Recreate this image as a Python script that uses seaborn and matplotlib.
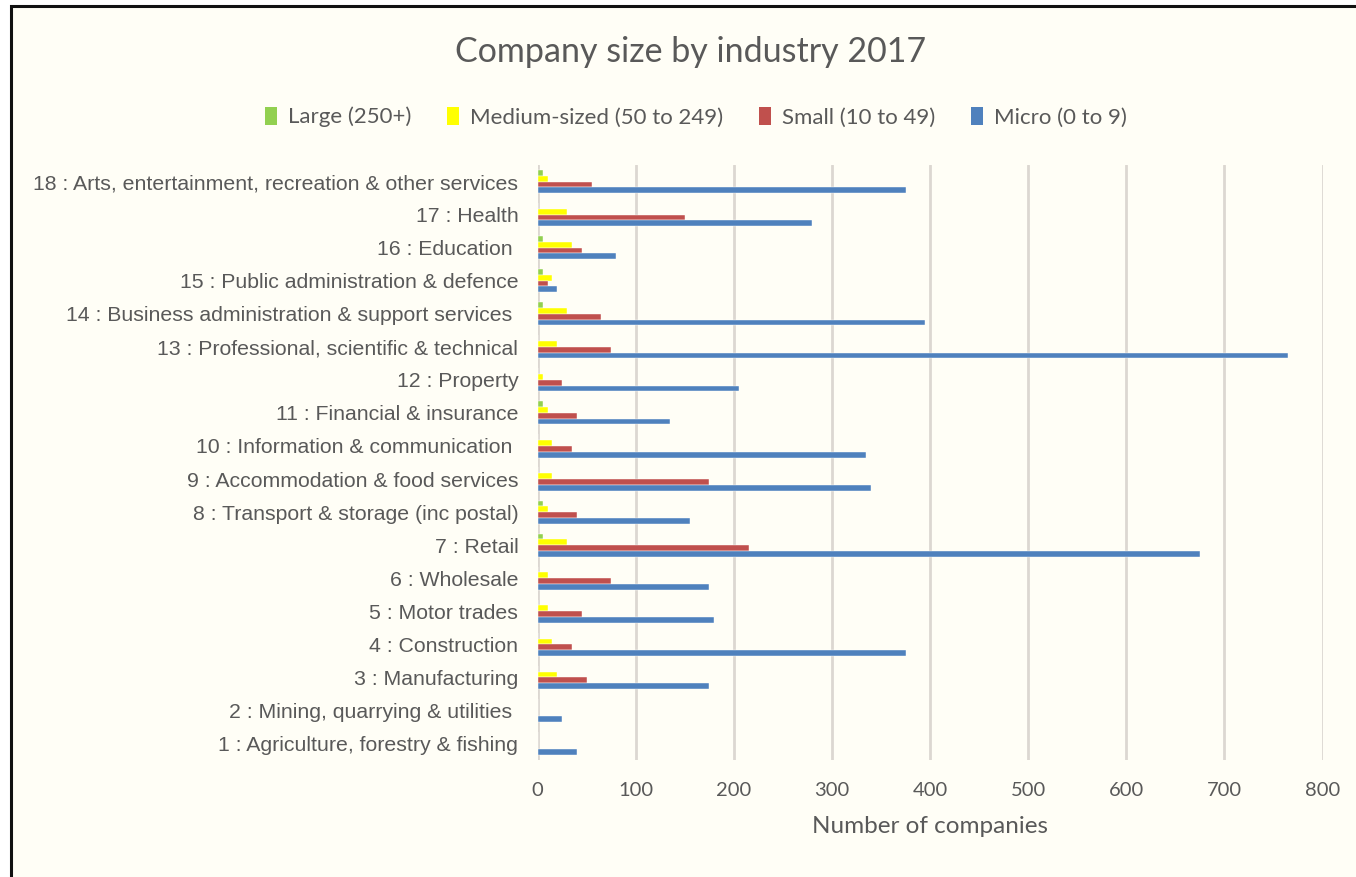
import matplotlib
matplotlib.use("Agg")
import matplotlib.pyplot as plt
import pandas as pd
import seaborn as sns
from matplotlib.patches import Rectangle, Patch

# Industry categories (bottom to top: 1 .. 18)
industries = [
    "1 : Agriculture, forestry & fishing",
    "2 : Mining, quarrying & utilities ",
    "3 : Manufacturing",
    "4 : Construction",
    "5 : Motor trades",
    "6 : Wholesale",
    "7 : Retail",
    "8 : Transport & storage (inc postal)",
    "9 : Accommodation & food services",
    "10 : Information & communication ",
    "11 : Financial & insurance",
    "12 : Property",
    "13 : Professional, scientific & technical",
    "14 : Business administration & support services ",
    "15 : Public administration & defence",
    "16 : Education ",
    "17 : Health",
    "18 : Arts, entertainment, recreation & other services",
]

size_bands = ["Large (250+)", "Medium-sized (50 to 249)", "Small (10 to 49)", "Micro (0 to 9)"]

large = [0, 0, 0, 0, 0, 0, 5, 5, 0, 0, 5, 0, 0, 5, 5, 5, 0, 5]
medium = [0, 0, 20, 15, 10, 10, 30, 10, 15, 15, 10, 5, 20, 30, 15, 35, 30, 10]
small = [0, 0, 50, 35, 45, 75, 215, 40, 175, 35, 40, 25, 75, 65, 10, 45, 150, 55]
micro = [40, 25, 175, 375, 180, 175, 675, 155, 340, 335, 135, 205, 765, 395, 20, 80, 280, 375]

x_ticks = [0, 100, 200, 300, 400, 500, 600, 700, 800]

band_colors = ["#92D050", "#FFFF00", "#C0504D", "#4F81BD"]

# Long-form table for seaborn
rows = []
for band, values in zip(size_bands, [large, medium, small, micro]):
    for ind, v in zip(industries, values):
        rows.append({"Industry": ind, "Size": band, "Companies": v})
df = pd.DataFrame(rows)

sns.set_theme(style="white")
plt.rcParams["font.family"] = ["Liberation Sans", "DejaVu Sans"]

bg = "#FFFEF6"
text_col = "#595959"
grid_col = "#DCD7D1"
ui_font = ["Lato", "DejaVu Sans"]

fig = plt.figure(figsize=(13.56, 8.77), dpi=100, facecolor="white")

# Chart frame: cream panel with dark border along the top and left edges
frame = Rectangle((11.0 / 1356, -0.05), 1.2, 1 - 6 / 877 + 0.05,
                  transform=fig.transFigure, facecolor=bg, edgecolor="#111111",
                  linewidth=2.2, zorder=-10)
fig.patches.append(frame)

ax = fig.add_axes([537.7 / 1356, 1 - 760 / 877, (1322.5 - 537.7) / 1356, (760 - 165) / 877])
ax.set_facecolor("none")

sns.barplot(
    data=df, y="Industry", x="Companies", hue="Size",
    order=industries[::-1], hue_order=size_bands, palette=band_colors,
    orient="h", width=0.7, gap=0, dodge=True, legend=False,
    edgecolor="#FFFFFF", linewidth=0.3, saturation=1, ax=ax, zorder=3,
)

ax.set_xlim(0, 800)
ax.set_xticks(x_ticks)
ax.set_xticklabels([str(t) for t in x_ticks], fontsize=14.5, color=text_col, family=ui_font)
ax.tick_params(axis="x", length=0, pad=16)
ax.tick_params(axis="y", length=0, pad=14, labelsize=15.3, labelcolor=text_col)
ax.grid(axis="x", color=grid_col, linewidth=2.0, zorder=0)
ax.grid(axis="y", visible=False)
for s in ax.spines.values():
    s.set_visible(False)
ax.set_ylabel("")
ax.set_xlabel("Number of companies", fontsize=17.5, color=text_col, labelpad=12, family=ui_font)

fig.text(691 / 1356, 1 - 52 / 877, "Company size by industry 2017", ha="center", va="center",
         fontsize=24.5, color=text_col, family=ui_font)

handles = [Patch(facecolor=c, edgecolor="none") for c in band_colors]
fig.legend(handles, size_bands, loc="center", bbox_to_anchor=(696 / 1356, 1 - 117 / 877),
           ncol=4, frameon=False, handlelength=0.55, handleheight=0.9, handletextpad=0.5,
           columnspacing=1.6, prop={"family": ui_font, "size": 16}, labelcolor=text_col)

fig.savefig("out.png", dpi=100, facecolor="white")
